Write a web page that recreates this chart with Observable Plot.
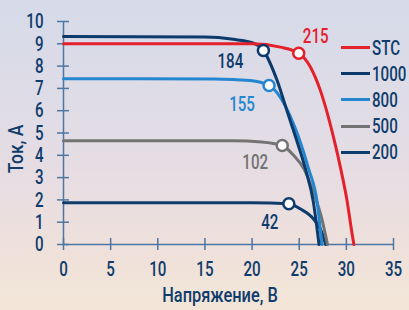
<!DOCTYPE html>
<html><head><meta charset="utf-8">
<script src="https://cdn.jsdelivr.net/npm/d3@7"></script>
<script src="https://cdn.jsdelivr.net/npm/@observablehq/plot@0.6"></script>
<style>
html,body{margin:0;padding:0;}
body{width:409px;height:310px;overflow:hidden;
 background:linear-gradient(to bottom,#d6dae9 0%,#dfdce6 35%,#e8dde2 60%,#efe1da 82%,#f3e6d8 100%);
 font-family:Roboto,sans-serif;}
#wrap{position:relative;width:409px;height:310px;}
#chart svg{background:transparent;display:block;}
.ov{position:absolute;color:#0f3c6b;font-size:21px;font-weight:500;line-height:20px;white-space:nowrap;}
.lg{position:absolute;left:341px;height:20px;}
.lg .ln{position:absolute;left:0;top:8.5px;width:29px;height:3px;}
.lg .tx{position:absolute;left:31px;top:0;color:#0f3c6b;font-size:21px;font-weight:500;line-height:20px;white-space:nowrap;transform:scaleX(0.72);transform-origin:left center;}
</style></head><body>
<div id="wrap"><div id="chart"></div></div>
<script>
// Data
const seriesNames = ["STC", "1000", "800", "500", "200"];
const stcV = [0, 20, 23, 24.95, 26.2, 27.25, 28.1, 28.7, 29.4, 30.1, 30.6, 30.8];
const stcI = [9.0, 9.0, 8.85, 8.58, 7.95, 6.9, 5.7, 4.7, 3.4, 1.9, 0.5, 0];
const g1000V = [0, 15, 18, 20, 21.2, 22.66, 23.7, 24.6, 25.66, 26.5, 27.1];
const g1000I = [9.33, 9.3, 9.2, 9.05, 8.7, 7.35, 6.0, 4.84, 3.39, 1.9, 0];
const g800V = [0, 16, 19.8, 21.8, 23.0, 24.1, 24.9, 26.0, 26.9, 27.4];
const g800I = [7.43, 7.42, 7.35, 7.13, 6.6, 5.7, 4.85, 3.39, 1.9, 0];
const g500V = [0, 18, 21, 23.2, 24.4, 25.5, 26.5, 27.4, 28.0];
const g500I = [4.65, 4.65, 4.6, 4.44, 4.0, 3.39, 2.35, 1.15, 0];
const g200V = [0, 20, 23.9, 25.1, 26.5, 27.4, 27.8];
const g200I = [1.87, 1.87, 1.83, 1.6, 1.15, 0.55, 0];
const mppV = [24.95, 21.2, 21.8, 23.2, 23.9];
const mppI = [8.58, 8.7, 7.13, 4.44, 1.83];
const mppW = ["215", "184", "155", "102", "42"];
const xTicks = [0, 5, 10, 15, 20, 25, 30, 35];
const yTicks = [0, 1, 2, 3, 4, 5, 6, 7, 8, 9, 10];
const xTitle = "Напряжение, В";
const yTitle = "Ток, А";

// Styles
const colors = ["#e4202b", "#0c3a6a", "#2486cf", "#737373", "#0e3c6d"];
const labelOffsets = [[17, -17], [-33, 11], [-27, 19], [-27, 16.5], [-19, 19]];
const axisColor = "#4d77a2";
const textColor = "#0f3c6b";
const font = "Roboto,sans-serif";
const squeeze = 0.72;

const curves = [[stcV, stcI], [g1000V, g1000I], [g800V, g800I], [g500V, g500I], [g200V, g200I]];
const rows = [];
curves.forEach(([V, I], s) => V.forEach((v, k) => rows.push({s: seriesNames[s], v, i: I[k]})));
const mpp = seriesNames.map((s, k) => ({s, v: mppV[k], i: mppI[k], w: mppW[k]}));

const marks = [
  Plot.ruleY([0], {x1: xTicks[0], x2: xTicks[xTicks.length - 1], stroke: axisColor, strokeWidth: 1.5}),
  Plot.ruleX([0], {y1: yTicks[0], y2: yTicks[yTicks.length - 1], stroke: axisColor, strokeWidth: 1.5}),
  Plot.ruleX(xTicks, {x: d => d, y1: 0, y2: 0, insetTop: 6, insetBottom: 6, stroke: axisColor, strokeWidth: 1.5}),
  Plot.ruleY(yTicks, {y: d => d, x1: 0, x2: 0, insetLeft: 6, insetRight: 6, stroke: axisColor, strokeWidth: 1.5}),
  Plot.axisX({ticks: xTicks, tickSize: 0, tickPadding: 17, label: null, fill: textColor, fontSize: 21, fontWeight: 500}),
  Plot.axisY({ticks: yTicks, tickSize: 0, tickPadding: 20, label: null, fill: textColor, fontSize: 21, fontWeight: 500}),
];
[4, 3, 2, 1, 0].forEach(k => {
  marks.push(Plot.line(rows.filter(d => d.s === seriesNames[k]), {x: "v", y: "i", stroke: colors[k], strokeWidth: 3, curve: "monotone-x"}));
});
mpp.forEach((d, k) => {
  marks.push(Plot.dot([d], {x: "v", y: "i", r: 5.5, fill: "white", stroke: colors[k], strokeWidth: 2.5}));
  marks.push(Plot.text([d], {x: "v", y: "i", text: "w", fill: colors[k], fontSize: 21, fontWeight: 500, dx: labelOffsets[k][0], dy: labelOffsets[k][1]}));
});

const chart = Plot.plot({
  width: 409, height: 310,
  marginLeft: 63, marginRight: 16, marginTop: 21, marginBottom: 66,
  x: {domain: [0, 35]}, y: {domain: [0, 10]},
  style: {background: "transparent", fontFamily: font, fontSize: "21px", color: textColor, overflow: "visible"},
  marks
});
const wrap = document.getElementById("wrap");
document.getElementById("chart").appendChild(chart);
// condense SVG text (reference uses a condensed face)
chart.querySelectorAll("text").forEach(t => {
  const w = t.getComputedTextLength();
  if (w > 0) { t.setAttribute("textLength", (w * squeeze).toFixed(2)); t.setAttribute("lengthAdjust", "spacingAndGlyphs"); }
});

const xl = document.createElement("div");
xl.className = "ov"; xl.textContent = xTitle;
xl.style.left = "220px"; xl.style.top = "285px"; xl.style.transform = "translateX(-50%) scaleX(0.78)";
wrap.appendChild(xl);
const yl = document.createElement("div");
yl.className = "ov"; yl.textContent = yTitle;
yl.style.left = "15.5px"; yl.style.top = "149px"; yl.style.transform = "translate(-50%,-50%) rotate(-90deg) scaleX(0.83)";
wrap.appendChild(yl);

const legendTops = [37.5, 63.5, 89.5, 116, 142];
seriesNames.forEach((s, k) => {
  const r = document.createElement("div");
  r.className = "lg"; r.style.top = legendTops[k] + "px";
  r.innerHTML = `<div class="ln" style="background:${colors[k]}"></div><div class="tx">${s}</div>`;
  wrap.appendChild(r);
});
</script>
</body></html>
